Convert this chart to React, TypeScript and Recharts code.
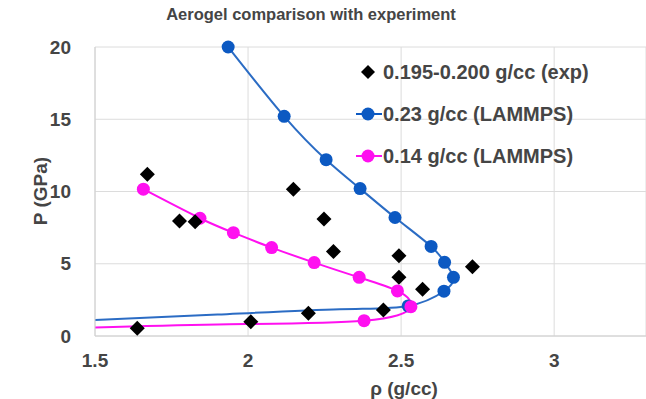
import { CartesianGrid, ComposedChart, Line, Scatter, XAxis, YAxis } from "recharts";

// 0.23 g/cc (LAMMPS) - marked points, then unmarked lower branch
const blueRho = [1.935, 2.118, 2.255, 2.366, 2.48, 2.598, 2.642, 2.671, 2.64, 2.523];
const blueP = [20.0, 15.2, 12.2, 10.2, 8.2, 6.2, 5.1, 4.06, 3.1, 2.08];
const blueTailRho = [2.3, 1.9, 1.5];
const blueTailP = [1.85, 1.48, 1.1];

// 0.14 g/cc (LAMMPS)
const pinkRho = [1.658, 1.843, 1.952, 2.077, 2.216, 2.363, 2.488, 2.532, 2.379];
const pinkP = [10.16, 8.15, 7.15, 6.12, 5.08, 4.06, 3.12, 2.03, 1.06];
const pinkTailRho = [1.9, 1.5];
const pinkTailP = [0.8, 0.58];

// 0.195-0.200 g/cc (exp)
const expRho = [1.671, 1.776, 1.827, 2.148, 2.248, 2.279, 1.638, 2.009, 2.197, 2.493, 2.493, 2.57, 2.442, 2.733];
const expP = [11.2, 7.96, 7.9, 10.16, 8.1, 5.84, 0.53, 0.99, 1.57, 5.56, 4.06, 3.23, 1.8, 4.8];

const xTicks = [1.5, 2, 2.5, 3];
const yTicks = [0, 5, 10, 15, 20];

const BLUE_LINE = "#2b6cc4";
const BLUE_DOT = "#0c59c2";
const PINK = "#ff10f0";
const TEXT = "#454545";
const FONT = "'Liberation Sans', Arial, sans-serif";

const toPoints = (xs: number[], ys: number[]) => xs.map((rho, i) => ({ rho, p: ys[i] }));

const blueData = toPoints([...blueRho, ...blueTailRho], [...blueP, ...blueTailP]);
const pinkData = toPoints([...pinkRho, ...pinkTailRho], [...pinkP, ...pinkTailP]);
const expData = toPoints(expRho, expP);

const makeDot = (count: number, color: string) => (props: any) =>
  props.index < count ? (
    <circle key={props.index} cx={props.cx} cy={props.cy} r={6.5} fill={color} stroke="none" />
  ) : (
    <g key={props.index} />
  );

const Diamond = (props: any) => {
  const { cx, cy } = props;
  const h = 7.5;
  return <polygon points={`${cx},${cy - h} ${cx + h},${cy} ${cx},${cy + h} ${cx - h},${cy}`} fill="#000" />;
};

const tickStyle = { fill: TEXT, fontSize: 19, fontWeight: 700, fontFamily: FONT };

const legendItems = [
  { label: "0.195-0.200 g/cc (exp)", kind: "diamond", color: "#000" },
  { label: "0.23 g/cc (LAMMPS)", kind: "circle", color: BLUE_DOT },
  { label: "0.14 g/cc (LAMMPS)", kind: "circle", color: PINK }
];

export default function App() {
  return (
    <div style={{ position: "absolute", left: 0, top: 0, width: 646, height: 399, background: "#fff", fontFamily: FONT }}>
      <div
        style={{
          position: "absolute",
          left: 0,
          width: 622,
          top: 5,
          textAlign: "center",
          fontSize: 16.5,
          fontWeight: 700,
          color: TEXT
        }}
      >
        Aerogel comparison with experiment
      </div>
      <ComposedChart width={646} height={399} margin={{ top: 47, right: 0, bottom: 33, left: 35 }}>
        <CartesianGrid stroke="#dcdcdc" strokeWidth={1} />
        <XAxis
          type="number"
          dataKey="rho"
          domain={[1.5, 3.3]}
          ticks={xTicks}
          allowDataOverflow
          height={30}
          tickLine={false}
          tickMargin={12}
          axisLine={{ stroke: "#d0d0d0" }}
          tick={tickStyle}
          label={{
            content: () => (
              <text x={404} y={388} textAnchor="middle" dominantBaseline="central" style={tickStyle}>
                ρ (g/cc)
              </text>
            )
          }}
        />
        <YAxis
          type="number"
          dataKey="p"
          domain={[0, 20]}
          ticks={yTicks}
          width={60}
          tickLine={false}
          tickMargin={18}
          axisLine={{ stroke: "#d0d0d0" }}
          tick={tickStyle}
          label={{
            content: () => (
              <text
                x={40}
                y={191}
                textAnchor="middle"
                dominantBaseline="central"
                transform="rotate(-90 40 191)"
                style={tickStyle}
              >
                P (GPa)
              </text>
            )
          }}
        />
        <Line
          data={blueData}
          dataKey="p"
          type="natural"
          stroke={BLUE_LINE}
          strokeWidth={2}
          dot={makeDot(blueRho.length, BLUE_DOT)}
          activeDot={false}
          isAnimationActive={false}
        />
        <Line
          data={pinkData}
          dataKey="p"
          type="natural"
          stroke={PINK}
          strokeWidth={2}
          dot={makeDot(pinkRho.length, PINK)}
          activeDot={false}
          isAnimationActive={false}
        />
        <Scatter data={expData} dataKey="p" shape={<Diamond />} isAnimationActive={false} />
      </ComposedChart>
      <div style={{ position: "absolute", left: 356, top: 51 }}>
        {legendItems.map((item) => (
          <div key={item.label} style={{ display: "flex", alignItems: "center", height: 42 }}>
            <svg width={26} height={20} style={{ marginRight: 1 }}>
              {item.kind === "diamond" ? (
                <polygon points="12,3 19,10 12,17 5,10" fill={item.color} />
              ) : (
                <g>
                  <line x1={0} y1={10} x2={26} y2={10} stroke={item.color} strokeWidth={2} />
                  <circle cx={12} cy={10} r={6.5} fill={item.color} />
                </g>
              )}
            </svg>
            <span style={{ fontSize: 20, fontWeight: 700, color: TEXT, lineHeight: "22px" }}>{item.label}</span>
          </div>
        ))}
      </div>
    </div>
  );
}
